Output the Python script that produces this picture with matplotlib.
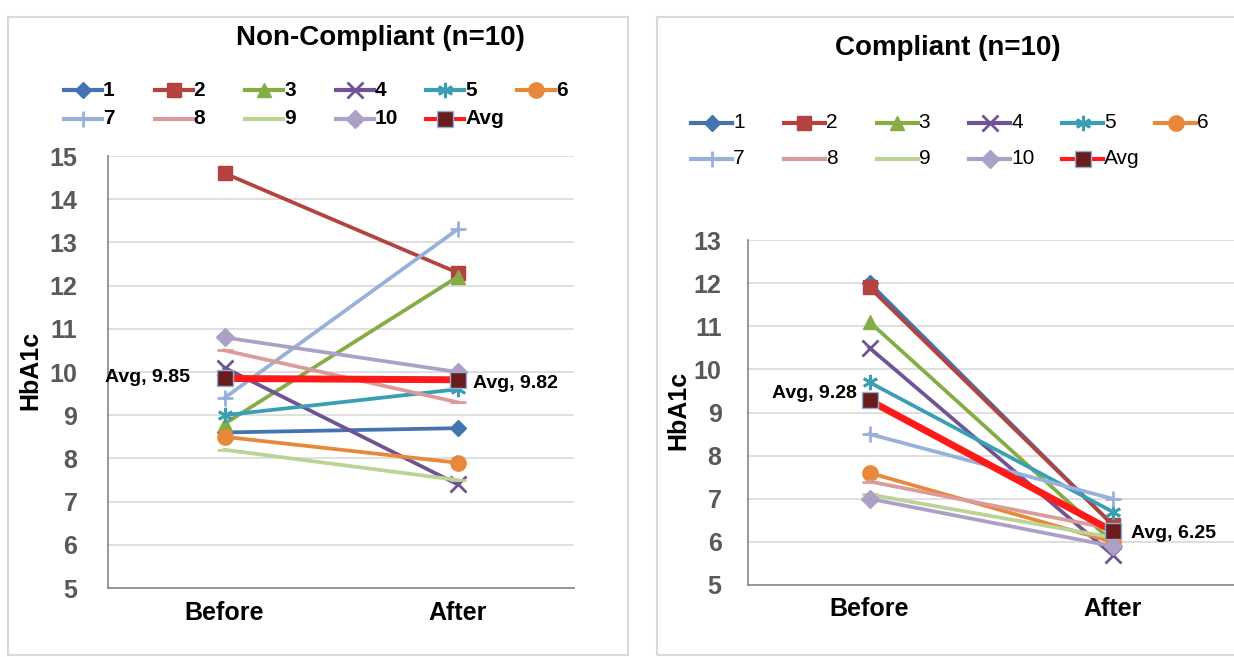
import matplotlib
matplotlib.use('Agg')
from matplotlib import pyplot as plt
from matplotlib.lines import Line2D
from matplotlib.patches import Rectangle

plt.rcParams['font.family'] = ['Liberation Sans', 'DejaVu Sans']

periods = ['Before', 'After']
patients = ['1', '2', '3', '4', '5', '6', '7', '8', '9', '10']

# HbA1c per patient, [before, after]
noncomp = [
    [8.6, 8.7], [14.6, 12.3], [8.8, 12.2], [10.1, 7.4], [9.0, 9.6],
    [8.5, 7.9], [9.4, 13.3], [10.5, 9.3], [8.2, 7.5], [10.8, 10.0],
]
noncomp_avg = [9.85, 9.82]

comp = [
    [12.0, 6.4], [11.9, 6.4], [11.1, 6.0], [10.5, 5.7], [9.7, 6.7],
    [7.6, 6.0], [8.5, 7.0], [7.4, 6.3], [7.1, 6.1], [7.0, 5.9],
]
comp_avg = [9.28, 6.25]

colors = ['#4373B0', '#B4423F', '#86AC45', '#6F5395', '#3A9EB5',
          '#E8883A', '#98B1DA', '#DA9C9A', '#BCD395', '#ADA0C7']
markers = ['D', 's', '^', 'x', (6, 2, 0), 'o', '+', '_', '_', 'D']
msizes = [8, 10, 10, 11, 11, 11, 12, 11, 11, 9]
thin = ('x', '+', '_')
avg_style = dict(color='#FF1A1A', marker='s', mfc='#6B1D1D', mec='#8DB3D3', mew=1)

fig = plt.figure(figsize=(12.34, 6.57), dpi=100)
W, H = 1234, 657

def fx(px):
    return px / W

def fy(py):
    return 1 - py / H

def mew(m):
    return 2 if (m in thin or isinstance(m, tuple)) else 1

# panel frames
for x0, x1 in [(8, 628), (657, 1240)]:
    fig.patches.append(Rectangle((fx(x0), fy(655)), fx(x1 - x0), (655 - 17) / H,
                                 transform=fig.transFigure, fill=False,
                                 edgecolor='#D9D9D9', linewidth=1.5))

def legend(x0, step, rows_y, hlen, bold):
    labels = patients + ['Avg']
    for k, lab in enumerate(labels):
        r, c = divmod(k, 6)
        xs = x0 + c * step
        y = fy(rows_y[r])
        if k < 10:
            col = colors[k]
            mk = dict(marker=markers[k], ms=msizes[k], mew=mew(markers[k]),
                      mfc=col, mec=col)
        else:
            col = avg_style['color']
            mk = {k2: v for k2, v in avg_style.items() if k2 != 'color'}
            mk['ms'] = 11
        fig.add_artist(Line2D([fx(xs), fx(xs + hlen)], [y, y], lw=3, color=col,
                              transform=fig.transFigure))
        fig.add_artist(Line2D([fx(xs + hlen / 2)], [y], lw=0, color=col,
                              transform=fig.transFigure, **mk))
        fig.text(fx(xs + hlen + 1), y, lab, fontsize=15, va='center', ha='left',
                 fontweight='bold' if bold else 'normal')

def panel(rect, data, avg, ylim, title, title_xy, ylab_xy, avg_lbls, ypad):
    ax = fig.add_axes(rect)
    x = [0, 1]
    for i, vals in enumerate(data):
        ax.plot(x, vals, color=colors[i], lw=2.7, marker=markers[i],
                ms=msizes[i], mew=mew(markers[i]),
                mec=colors[i], mfc=colors[i], zorder=3 + i * 0.1)
    ax.plot(x, avg, lw=5, ms=11, zorder=5, **avg_style)
    ax.set_xlim(-0.5, 1.5)
    ax.set_ylim(*ylim)
    ax.set_yticks(range(ylim[0], ylim[1] + 1))
    ax.set_xticks(x)
    ax.set_xticklabels(periods, fontsize=18, fontweight='bold', color='black')
    for t in ax.get_yticklabels():
        t.set_fontsize(18)
        t.set_fontweight('bold')
        t.set_color('#595959')
    ax.tick_params(axis='y', length=0, pad=ypad)
    ax.tick_params(axis='x', length=0, pad=9)
    ax.grid(axis='y', color='#D9D9D9', lw=1.2)
    ax.set_axisbelow(True)
    for s in ['top', 'right']:
        ax.spines[s].set_visible(False)
    for s in ['left', 'bottom']:
        ax.spines[s].set_color('#868686')
        ax.spines[s].set_linewidth(1.2)

    fig.text(fx(ylab_xy[0]), fy(ylab_xy[1]), 'HbA1c', rotation=90, fontsize=18,
             fontweight='bold', ha='center', va='center')
    fig.text(fx(title_xy[0]), fy(title_xy[1]), title, fontsize=20,
             fontweight='bold', ha='center', va='center')

    # avg value labels
    (bx, by, bha), (ax_, ay, aha) = avg_lbls
    fig.text(fx(bx), fy(by), f'Avg, {avg[0]:.2f}', fontsize=14, fontweight='bold',
             ha=bha, va='center')
    fig.text(fx(ax_), fy(ay), f'Avg, {avg[1]:.2f}', fontsize=14, fontweight='bold',
             ha=aha, va='center')
    return ax

panel([fx(108), fy(588), fx(466), (588 - 156) / H], noncomp, noncomp_avg, (5, 15),
      'Non-Compliant (n=10)', (380, 38), (30, 370),
      ((190, 377, 'right'), (473, 383, 'left')), 22)
legend(64, 90.6, (90, 119), 38, True)

panel([fx(748), fy(585), fx(486), (585 - 240) / H], comp, comp_avg, (5, 13),
      'Compliant (n=10)', (948, 48), (678, 410),
      ((857, 393, 'right'), (1131, 533, 'left')), 19)
legend(691, 92.8, (123, 159), 41, False)

fig.savefig('out.png', dpi=100, facecolor='white')
